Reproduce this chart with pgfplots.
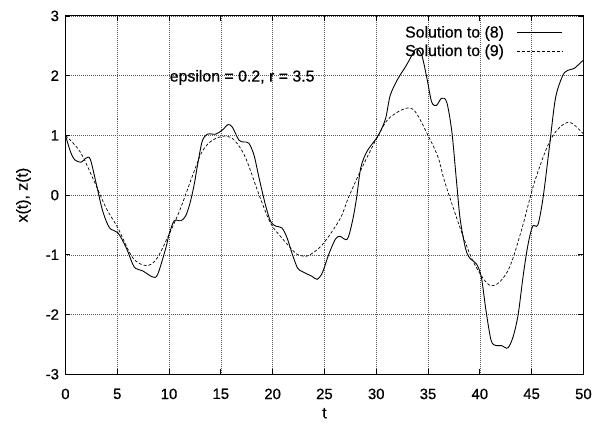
\documentclass[border=0pt]{standalone}
\usepackage{fontspec}
\setmainfont{Liberation Sans}[FakeBold=0.6]
\usepackage{pgfplots}
\pgfplotsset{compat=1.18}

\begin{document}
\begin{tikzpicture}
\begin{axis}[
  scale only axis,
  width=520bp, height=359.7bp,
  xmin=0, xmax=50, ymin=-3, ymax=3,
  xtick={0,5,...,50}, ytick={-3,-2,...,3},
  /pgf/number format/assume math mode=true,
  tick label style={font=\fontsize{15}{17}\selectfont},
  yticklabel style={xshift=-3bp},
  xticklabel style={yshift=-11bp},
  label style={font=\fontsize{16}{18}\selectfont},
  xlabel={t}, ylabel={x(t), z(t)},
  xlabel style={yshift=-2bp},
  ylabel style={yshift=8bp},
  axis line style={line width=1pt},
  tick align=inside, tick style={black, line width=0.7pt},
  major tick length=5bp,
  grid=major,
  grid style={dash pattern=on 0.7pt off 1.3pt, black!65, line width=0.5pt},
  legend style={draw=none, fill=none, at={(axis cs:48.3,2.9)}, anchor=north east,
    font=\fontsize{16}{18}\selectfont, row sep=1.5bp},
  legend cell align=right,
  legend plot pos=right,
  legend image code/.code={\path (0bp,0bp); \draw[#1] (11bp,0bp) -- (56bp,0bp);},
]
\addplot[black, line width=0.9pt, smooth, tension=0.5] coordinates {
(0,1.0) (0.5,0.72) (0.9,0.59) (1.5,0.55) (2.0,0.62) (2.4,0.6) (3.0,0.17)
(3.6,-0.27) (4.26,-0.55) (5.06,-0.63) (5.86,-0.88) (6.5,-1.16) (6.8,-1.23)
(7.46,-1.27) (8.4,-1.37) (8.9,-1.33) (9.7,-0.88) (10.0,-0.66) (10.5,-0.43)
(11.15,-0.43) (11.6,-0.35) (12.0,-0.15) (12.4,0.15) (12.75,0.5) (13.2,0.9)
(13.7,1.02) (14.5,1.02) (15.15,1.09) (15.7,1.18) (16.1,1.14) (16.75,0.92)
(17.2,0.89) (17.7,0.87) (18.2,0.67) (18.7,0.28) (19.3,-0.16) (19.8,-0.44)
(20.3,-0.52) (20.9,-0.55) (21.4,-0.72) (21.9,-0.99) (22.4,-1.22) (22.85,-1.28)
(23.8,-1.36) (24.3,-1.41) (24.8,-1.3) (25.4,-1.0) (26.05,-0.74) (26.5,-0.69)
(27.2,-0.74) (27.7,-0.44) (28.1,-0.05) (28.5,0.45) (29.1,0.73) (30.2,1.0)
(30.9,1.28) (31.35,1.67) (32.1,1.95) (32.9,2.17) (33.6,2.39) (33.9,2.45)
(34.4,2.34) (34.9,1.95) (35.35,1.56) (35.8,1.5) (36.3,1.62) (36.8,1.56)
(37.3,1.06) (37.75,0.23) (38.1,-0.4) (38.6,-0.88) (39.0,-1.05) (39.7,-1.16)
(40.15,-1.38) (40.6,-1.94) (41.1,-2.44) (41.6,-2.52) (42.1,-2.52) (42.7,-2.56)
(43.2,-2.38) (43.7,-2.0) (44.2,-1.33) (44.65,-0.83) (45.1,-0.52) (45.6,-0.5)
(46.1,-0.05) (46.7,0.78) (47.3,1.62) (48.0,2.0) (48.5,2.09) (49.1,2.12)
(49.8,2.23) (50,2.26)
};
\addlegendentry{Solution to (8)}
\addplot[black, line width=0.7pt, dash pattern=on 3pt off 2pt, smooth, tension=0.55] coordinates {
(0,1.0) (1.4,0.73) (2.65,0.28) (3.94,-0.22) (5.06,-0.55) (6.5,-1.05)
(7.8,-1.18) (8.75,-1.08) (9.7,-0.77) (11.0,-0.27) (12.3,0.34) (13.2,0.73)
(14.2,0.92) (15.5,0.99) (16.4,0.9) (17.4,0.62) (18.7,0.0) (19.8,-0.47)
(20.9,-0.72) (22.2,-0.97) (22.9,-1.02) (23.5,-1.01) (24.8,-0.83) (26.5,-0.4)
(27.3,-0.05) (28.6,0.45) (30.2,1.0) (31.2,1.28) (32.8,1.45) (33.75,1.4)
(35.0,1.0) (36.0,0.62) (36.6,0.23) (38.2,-0.6) (39.5,-1.16) (41.1,-1.52)
(42.7,-1.27) (44.0,-0.6) (45.3,0.23) (46.9,0.95) (48.5,1.22) (49.8,1.06)
(50,1.02)
};
\addlegendentry{Solution to (9)}
\node[anchor=west, font=\fontsize{16}{18}\selectfont, inner sep=0pt] at (axis cs:10.05,1.97) {epsilon = 0.2, r = 3.5};
\end{axis}
\path ([shift={(-65.7bp,-51.3bp)}]current axis.south west) rectangle ([shift={(9.3bp,16bp)}]current axis.north east);
\end{tikzpicture}
\end{document}
